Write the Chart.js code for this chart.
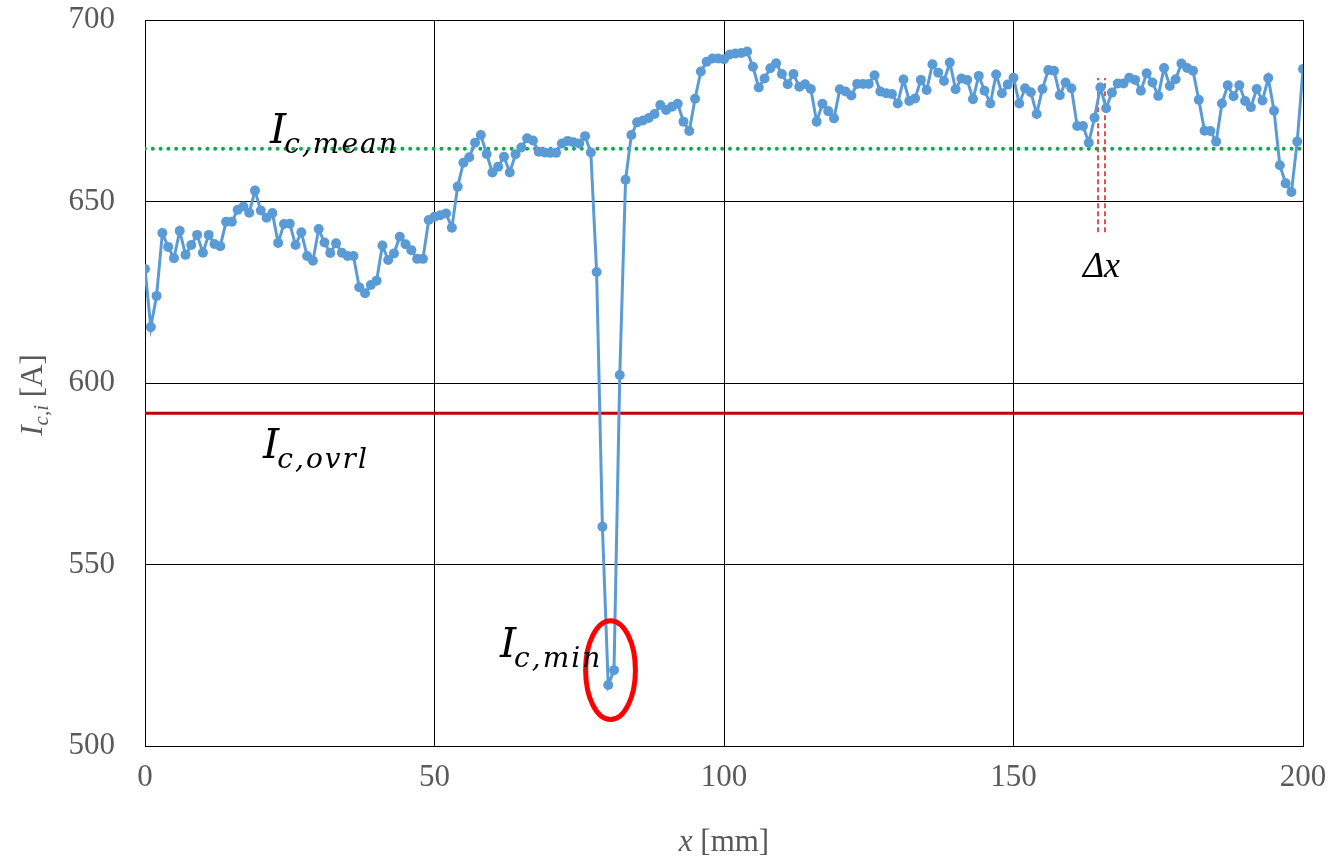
<!DOCTYPE html>
<html>
<head>
<meta charset="utf-8">
<script src="https://cdn.jsdelivr.net/npm/chart.js@4.4.1/dist/chart.umd.min.js"></script>
<style>
  html, body { margin: 0; padding: 0; background: #fff; }
  #icChart { display: block; }
</style>
</head>
<body>
<canvas id="icChart" width="1335" height="859"></canvas>
<script>
// Local critical current along the tape, one sample per millimetre
const sampleStepMm = 1;
const icLocal = [
  631.4, 615.4, 624.0, 641.3, 637.5, 634.4, 641.9, 635.3, 638.0, 640.8,
  635.9, 640.8, 638.3, 637.7, 644.4, 644.4, 647.7, 648.6, 646.9, 653.0,
  647.5, 645.5, 646.8, 638.6, 643.8, 643.9, 638.0, 641.5, 635.0, 633.7,
  642.4, 638.7, 635.8, 638.5, 635.9, 635.0, 635.0, 626.4, 624.7, 627.0,
  628.2, 637.9, 633.9, 635.7, 640.3, 638.2, 636.6, 634.2, 634.2, 644.9,
  645.8, 646.2, 646.7, 642.8, 654.1, 660.7, 662.2, 666.2, 668.3, 663.1,
  658.0, 659.6, 662.3, 658.0, 663.0, 664.9, 667.4, 666.8, 663.7, 663.5,
  663.4, 663.4, 666.0, 666.7, 666.3, 666.0, 668.0, 663.5, 630.6, 560.4,
  516.8, 520.9, 602.2, 656.0, 668.3, 671.8, 672.3, 673.0, 674.1, 676.6,
  675.2, 676.1, 676.9, 672.0, 669.4, 678.3, 685.8, 688.5, 689.4, 689.4,
  689.2, 690.5, 690.8, 690.9, 691.3, 687.1, 681.4, 683.9, 686.7, 688.1,
  685.1, 682.3, 685.1, 681.6, 682.3, 681.0, 672.0, 676.9, 674.9, 672.9,
  680.9, 680.3, 679.2, 682.4, 682.4, 682.4, 684.8, 680.3, 679.8, 679.6,
  677.0, 683.6, 677.7, 678.4, 683.5, 680.7, 687.8, 685.5, 683.2, 688.3,
  680.9, 683.9, 683.5, 678.2, 684.6, 680.5, 677.0, 685.0, 679.8, 682.2,
  684.1, 677.0, 681.2, 680.1, 674.1, 681.0, 686.2, 686.0, 679.3, 682.8,
  681.2, 670.8, 670.8, 666.2, 673.1, 681.4, 675.7, 680.0, 682.5, 682.5,
  684.1, 683.5, 680.5, 685.3, 682.8, 679.1, 686.8, 681.8, 683.7, 688.0,
  686.8, 686.0, 678.0, 669.5, 669.4, 666.5, 677.0, 682.0, 679.0, 682.0,
  677.7, 676.0, 681.0, 677.8, 684.0, 675.0, 660.0, 655.0, 652.6, 666.5,
  686.5
];

const icMean = 664.5;      // mean of the local values
const icOverall = 591.7;   // overall (end-to-end) critical current
const xRange = [0, 200];
const yRange = [500, 700];
const xTicks = [0, 50, 100, 150, 200];
const yTicks = [500, 550, 600, 650, 700];

// Δx marker: two sample positions and the height span of the dashes
const deltaXPos = [164.6, 165.8];
const deltaXSpan = [641.5, 684.0];

// minimum highlight ellipse (centre x, centre y, half width mm, half height A)
const minMark = { x: 80.4, y: 520.9, rx: 4.3, ry: 13.6 };

const positionsMm = icLocal.map((_, i) => i * sampleStepMm);
const seriesPoints = positionsMm.map((x, i) => ({ x: x, y: icLocal[i] }));

const BLUE = '#5B9BD5';
const GREY = '#595959';

function hline(y) {
  return [{ x: xRange[0], y: y }, { x: xRange[1], y: y }];
}

// text labels placed in data coordinates
const labels = [
  { x: 21.6, y: 666.1, main: 'I', sub: 'c,mean' },
  { x: 20.4, y: 579.3, main: 'I', sub: 'c,ovrl' },
  { x: 61.3, y: 524.5, main: 'I', sub: 'c,min' }
];

function drawSubscripted(ctx, x, y, main, sub, mainFont, subFont, dy, gap) {
  ctx.font = mainFont;
  ctx.fillText(main, x, y);
  const w = ctx.measureText(main).width;
  ctx.font = subFont;
  ctx.fillText(sub, x + w + gap, y + dy);
}

const overlay = {
  id: 'overlay',
  afterDatasetsDraw(chart) {
    const ctx = chart.ctx;
    const xs = chart.scales.x, ys = chart.scales.y;
    ctx.save();

    // red ring round the minimum
    const cx = xs.getPixelForValue(minMark.x);
    const cy = ys.getPixelForValue(minMark.y);
    const rx = Math.abs(xs.getPixelForValue(minMark.x + minMark.rx) - cx);
    const ry = Math.abs(ys.getPixelForValue(minMark.y + minMark.ry) - cy);
    ctx.beginPath();
    ctx.ellipse(cx, cy, rx, ry, 0, 0, Math.PI * 2);
    ctx.strokeStyle = '#FF0000';
    ctx.lineWidth = 5;
    ctx.stroke();

    // annotation texts
    ctx.fillStyle = '#000';
    ctx.textBaseline = 'alphabetic';
    ctx.textAlign = 'left';
    ctx.letterSpacing = '2px';
    labels.forEach(l => {
      drawSubscripted(ctx, xs.getPixelForValue(l.x), ys.getPixelForValue(l.y),
        l.main, l.sub, 'italic 41px "DejaVu Serif"', 'italic 28px "DejaVu Serif"', 10, -4);
    });
    ctx.letterSpacing = '0px';
    ctx.font = 'italic 36px "Liberation Serif"';
    ctx.fillText('\u0394x', xs.getPixelForValue(162), ys.getPixelForValue(629.2));
    ctx.restore();
  },
  afterDraw(chart) {
    const ctx = chart.ctx;
    const area = chart.chartArea;
    ctx.save();
    ctx.fillStyle = GREY;
    ctx.textBaseline = 'alphabetic';
    ctx.textAlign = 'left';

    // x axis title
    ctx.font = 'italic 31px "Liberation Serif"';
    const wx = ctx.measureText('x').width;
    ctx.font = '31px "Liberation Serif"';
    const wmm = ctx.measureText(' [mm]').width;
    let x0 = (area.left + area.right) / 2 - (wx + wmm) / 2;
    ctx.font = 'italic 31px "Liberation Serif"';
    ctx.fillText('x', x0, 851);
    ctx.font = '31px "Liberation Serif"';
    ctx.fillText(' [mm]', x0 + wx, 851);

    // y axis title, rotated
    ctx.translate(42, (area.top + area.bottom) / 2 + 12);
    ctx.rotate(-Math.PI / 2);
    ctx.font = 'italic 31px "Liberation Serif"';
    const wi = ctx.measureText('I').width;
    ctx.font = 'italic 21px "Liberation Serif"';
    const wsub = ctx.measureText('c,i').width;
    ctx.font = '31px "Liberation Serif"';
    const wa = ctx.measureText(' [A]').width;
    let s = -(wi + wsub + wa) / 2;
    ctx.font = 'italic 31px "Liberation Serif"';
    ctx.fillText('I', s, 0);
    ctx.font = 'italic 21px "Liberation Serif"';
    ctx.fillText('c,i', s + wi, 6);
    ctx.font = '31px "Liberation Serif"';
    ctx.fillText(' [A]', s + wi + wsub, 0);
    ctx.restore();
  }
};

new Chart(document.getElementById('icChart'), {
  type: 'scatter',
  data: {
    datasets: [
      {
        label: 'Ic,i',
        data: seriesPoints,
        showLine: true,
        borderColor: BLUE,
        borderWidth: 3,
        pointRadius: 5,
        pointBackgroundColor: BLUE,
        pointBorderWidth: 0,
        order: 0
      },
      {
        label: 'Ic,mean',
        data: hline(icMean),
        showLine: true,
        borderColor: '#00B050',
        borderWidth: 4,
        borderDash: [0, 7.8],
        borderCapStyle: 'round',
        pointRadius: 0,
        order: 2
      },
      {
        label: 'Ic,ovrl',
        data: hline(icOverall),
        showLine: true,
        borderColor: '#C00000',
        borderWidth: 3,
        pointRadius: 0,
        order: 2
      },
      ...deltaXPos.map(x => ({
        label: 'dx',
        data: [{ x: x, y: deltaXSpan[0] }, { x: x, y: deltaXSpan[1] }],
        showLine: true,
        borderColor: '#D64545',
        borderWidth: 1.8,
        borderDash: [5, 3],
        pointRadius: 0,
        order: 1
      }))
    ]
  },
  options: {
    responsive: false,
    animation: false,
    devicePixelRatio: 1,
    layout: { padding: { top: 20, right: 32, left: 0, bottom: 0 } },
    plugins: { legend: { display: false }, tooltip: { enabled: false } },
    scales: {
      x: {
        type: 'linear',
        min: xRange[0],
        max: xRange[1],
        afterBuildTicks: s => { s.ticks = xTicks.map(v => ({ value: v })); },
        afterFit: s => { s.height = 113; s.paddingLeft = 0; s.paddingRight = 0; },
        ticks: {
          color: GREY,
          font: { family: 'Liberation Serif', size: 31 },
          padding: 13,
          maxRotation: 0
        },
        grid: { color: '#000', lineWidth: 1, drawTicks: false },
        border: { color: '#000', width: 1 }
      },
      y: {
        min: yRange[0],
        max: yRange[1],
        afterBuildTicks: s => { s.ticks = yTicks.map(v => ({ value: v })); },
        afterFit: s => { s.width = 145; s.paddingTop = 0; s.paddingBottom = 0; },
        ticks: {
          color: GREY,
          font: { family: 'Liberation Serif', size: 31 },
          padding: 30
        },
        grid: { color: '#000', lineWidth: 1, drawTicks: false },
        border: { color: '#000', width: 1 }
      }
    }
  },
  plugins: [overlay]
});
</script>
</body>
</html>
